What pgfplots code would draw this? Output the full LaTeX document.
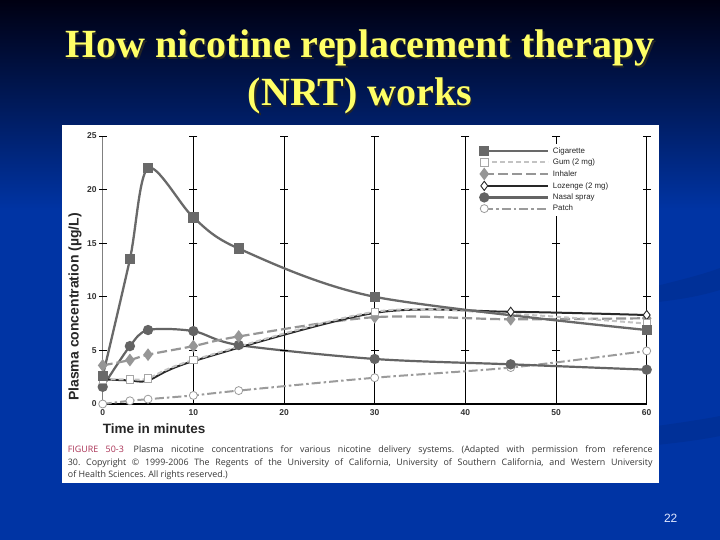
\documentclass[border=0pt]{standalone}
\usepackage{fontspec}
\setmainfont{Liberation Serif}
\setsansfont{Liberation Sans}
\newfontfamily\capfont{Open Sans}
\usepackage{pgfplots}
\pgfplotsset{compat=1.18}

\definecolor{bgtop}{RGB}{0,0,18}
\definecolor{bgblue}{RGB}{0,52,164}
\definecolor{titleyel}{RGB}{255,255,102}
\definecolor{cig}{RGB}{105,105,105}
\definecolor{gum}{RGB}{195,195,195}
\definecolor{inh}{RGB}{150,150,150}
\definecolor{loz}{RGB}{40,40,40}
\definecolor{nas}{RGB}{100,100,100}
\definecolor{pat}{RGB}{155,155,155}
\definecolor{figred}{RGB}{170,50,85}
\definecolor{captxt}{RGB}{55,55,55}
\definecolor{pagenum}{RGB}{225,232,255}

\begin{document}
\begin{tikzpicture}[x=1pt,y=1pt]
% slide background
\fill[bgblue] (0,0) rectangle (720,540);
\shade[top color=bgtop, bottom color=bgblue] (0,330) rectangle (720,540);
\fill[black, opacity=0.07] (640,250) .. controls (690,262) and (710,268) .. (720,272)
  -- (720,250) .. controls (700,244) and (680,240) .. (640,236) -- cycle;
\fill[black, opacity=0.07] (560,100) .. controls (640,112) and (690,118) .. (720,124)
  -- (720,104) .. controls (690,98) and (640,92) .. (560,88) -- cycle;

% title with shadow
\foreach \txt/\yy in {{How nicotine replacement therapy}/482, {(NRT) works}/434}{
  \node[anchor=base, inner sep=0, font=\fontsize{40}{40}\selectfont\bfseries, text=black!85]
    at (361.5,\yy-1.5) {\txt};
  \node[anchor=base, inner sep=0, font=\fontsize{40}{40}\selectfont\bfseries, text=titleyel]
    at (360,\yy) {\txt};
}

% figure panel
\fill[white] (62,57) rectangle (659,415);

\begin{axis}[
    at={(102.7pt,136pt)}, anchor=origin,
    scale only axis, width=544pt, height=268pt,
    xmin=0, xmax=60, ymin=0, ymax=25,
    xtick={10,20,...,60}, ytick={0,5,...,25},
    extra x ticks={0}, extra x tick style={grid=none},
    clip=false,
    axis lines*=left,
    x axis line style={black, line width=1.6pt},
    y axis line style={gray, line width=0.6pt},
    tick style={draw=none},
    xmajorgrids, grid style={black, line width=0.8pt},
    /pgf/number format/assume math mode=true,
    tick label style={font=\sffamily\bfseries\fontsize{8.5}{9}\selectfont, text=black!80},
    yticklabel style={xshift=-2.5pt},
    xticklabel style={yshift=-2pt},
    ylabel={Plasma concentration (µg/L)},
    ylabel style={at={(axis description cs:-0.051,0.362)}, anchor=center,
                  font=\sffamily\bfseries\fontsize{14}{14}\selectfont, text=black!85},
    xlabel={Time in minutes},
    xlabel style={at={(axis description cs:0,-0.093)}, anchor=west, inner sep=0pt,
                  font=\sffamily\bfseries\fontsize{13.5}{14}\selectfont, text=black!85},
    legend image code/.code={
        \draw[#1, mark=none] (0pt,0pt) -- (64pt,0pt);
        \draw[#1] plot[only marks] coordinates {(0pt,0pt)};
    },
    legend style={at={(0.690,0.971)}, anchor=north west, draw=none, fill=white,
                  font=\sffamily\fontsize{7.9}{8}\selectfont, text=black!85,
                  row sep=2.7pt, column sep=3pt, inner xsep=2pt, inner ysep=3pt,
                  nodes={inner sep=0.5pt, text height=6pt, text depth=1.5pt}},
    legend cell align=left,
]

% short cross ticks on every grid line
\addplot[only marks, mark=-, mark size=4pt, mark options={black, line width=0.6pt}, forget plot]
coordinates {
(0,5) (0,10) (0,15) (0,20) (0,25)
(10,5) (10,10) (10,15) (10,20) (10,25)
(20,5) (20,10) (20,15) (20,20) (20,25)
(30,5) (30,10) (30,15) (30,20) (30,25)
(40,5) (40,10) (40,15) (40,20) (40,25)
(50,5) (50,10) (50,15) (50,20) (50,25)
(60,5) (60,10) (60,15) (60,20) (60,25)
};

% Patch
\addplot[pat, line width=2pt, smooth, dash pattern=on 9pt off 3pt on 2.5pt off 3pt,
         mark=*, mark size=4pt, mark options={solid, draw=pat, fill=white, line width=0.8pt},
         forget plot]
coordinates {(0,0) (3,0.3) (5,0.45) (10,0.8) (15,1.25) (30,2.45) (45,3.4) (60,4.95)};

% Nasal spray
\addplot[nas, line width=2.2pt, smooth, mark=*, mark size=4pt,
         mark options={solid, fill=nas, draw=nas}, forget plot]
coordinates {(0,1.6) (3,5.4) (5,6.9) (10,6.8) (15,5.5) (30,4.2) (45,3.7) (60,3.2)};

% Inhaler
\addplot[inh, line width=2.2pt, smooth, dash pattern=on 10pt off 4pt,
         mark=diamond*, mark size=4.6pt, mark options={solid, fill=inh, draw=inh}, forget plot]
coordinates {(0,3.6) (3,4.1) (5,4.6) (10,5.4) (15,6.3) (30,8.1) (45,7.9) (60,8.0)};

% Lozenge (2 mg)
\addplot[loz, line width=2pt, smooth, mark=diamond*, mark size=4.6pt, mark indices={6,7},
         mark options={solid, fill=white, draw=loz, line width=0.9pt}, forget plot]
coordinates {(0,2.3) (3,2.2) (5,2.2) (10,4.0) (30,8.5) (45,8.6) (60,8.3)};

% Gum (2 mg)
\addplot[gum, line width=2pt, smooth, dash pattern=on 5pt off 3pt,
         mark=square*, mark size=3.8pt, mark indices={1,2,3,4,5,7},
         mark options={solid, fill=white, draw=gum!85!black, line width=0.8pt}, forget plot]
coordinates {(0,2.3) (3,2.3) (5,2.4) (10,4.1) (30,8.6) (45,8.4) (60,7.5)};

% Cigarette
\addplot[cig, line width=2.3pt, smooth, mark=square*, mark size=4pt,
         mark options={solid, fill=cig, draw=cig}, forget plot]
coordinates {(0,2.6) (3,13.5) (5,22.0) (10,17.4) (15,14.5) (30,10.0) (60,6.9)};

\addlegendimage{cig, line width=2.3pt, mark=square*, mark size=4pt, mark options={solid, fill=cig}}
\addlegendentry{Cigarette}
\addlegendimage{gum, line width=2pt, dash pattern=on 5pt off 3pt, mark=square*, mark size=3.8pt,
                mark options={solid, fill=white, draw=gum!85!black, line width=0.8pt}}
\addlegendentry{Gum (2 mg)}
\addlegendimage{inh, line width=2.2pt, dash pattern=on 10pt off 4pt, mark=diamond*, mark size=4.6pt,
                mark options={solid, fill=inh}}
\addlegendentry{Inhaler}
\addlegendimage{loz, line width=2pt, mark=diamond*, mark size=4.6pt,
                mark options={solid, fill=white, draw=loz, line width=0.9pt}}
\addlegendentry{Lozenge (2 mg)}
\addlegendimage{nas, line width=2.2pt, mark=*, mark size=4pt, mark options={solid, fill=nas}}
\addlegendentry{Nasal spray}
\addlegendimage{pat, line width=2pt, dash pattern=on 9pt off 3pt on 2.5pt off 3pt, mark=*, mark size=4pt,
                mark options={solid, fill=white, draw=pat, line width=0.8pt}}
\addlegendentry{Patch}
\end{axis}

% caption
\node[anchor=north west, inner sep=0, text width=584.6pt, align=justify,
      font=\capfont\fontsize{8.9}{12.5}\selectfont\frenchspacing, text=captxt] at (67.7,94.5)
{\textcolor{figred}{FIGURE 50-3}\hspace{1.1em}Plasma nicotine concentrations for various nicotine delivery systems. (Adapted with permission from reference\linebreak
30. Copyright © 1999-2006 The Regents of the University of California, University of Southern California, and Western University\linebreak
of Health Sciences. All rights reserved.)\par};

% slide number
\node[font=\sffamily\fontsize{12}{12}\selectfont, text=pagenum] at (670.7,21.7) {22};
\end{tikzpicture}
\end{document}
